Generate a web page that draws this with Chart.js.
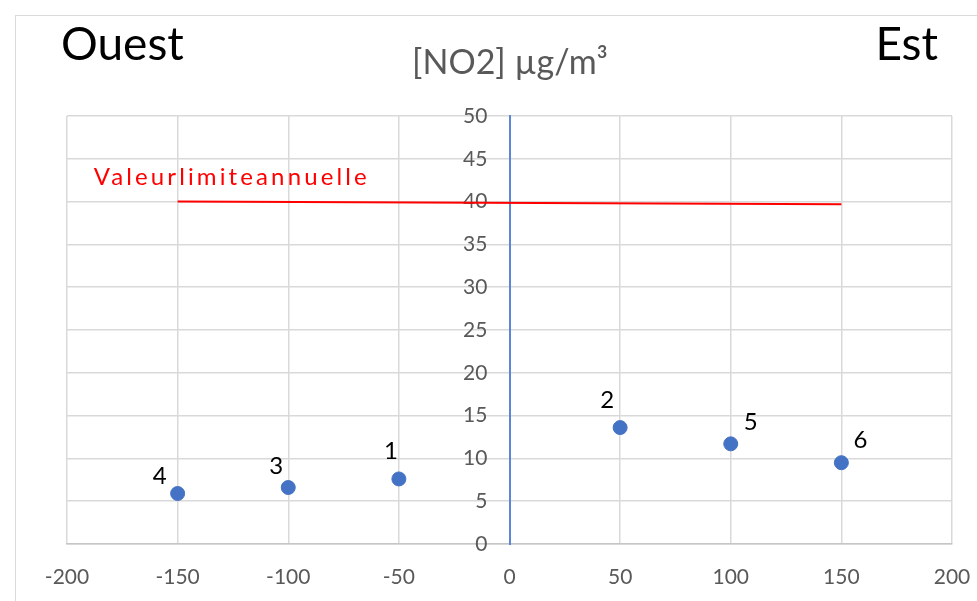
<!DOCTYPE html>
<html>
<head>
<meta charset="utf-8">
<script src="https://cdn.jsdelivr.net/npm/chart.js@4.4.1/dist/chart.umd.min.js"></script>
<style>
  html, body { margin: 0; padding: 0; background: #fff; overflow: hidden; }
  #wrap { position: relative; width: 977px; height: 601px; }
  #frame { position: absolute; left: 15px; top: 15px; width: 990px; height: 620px;
           border-left: 1.5px solid #dadada; border-top: 1.5px solid #dadada; }
  #chart { position: absolute; left: 0; top: 0; }
</style>
</head>
<body>
<div id="wrap">
  <div id="frame"></div>
  <canvas id="chart" width="977" height="601"></canvas>
</div>
<script>
  // distances (m), west negative / east positive
  const distances = [-150, -100, -50, 50, 100, 150];
  const no2Values = [5.9, 6.6, 7.6, 13.6, 11.7, 9.5];
  const siteLabels = ["4", "3", "1", "2", "5", "6"];

  const limitX = [-150, 150];
  const limitY = [40, 39.7];
  const limitText = "Valeur limite annuelle";

  const xTicks = [-200, -150, -100, -50, 0, 50, 100, 150, 200];
  const yTicks = [0, 5, 10, 15, 20, 25, 30, 35, 40, 45, 50];

  const titleText = "[NO2] µg/m³";
  const westText = "Ouest";
  const eastText = "Est";

  // where each site label sits relative to its point (px)
  const labelOffsets = [[-18, -17], [-12, -21], [-8, -28], [-13, -27], [20, -22], [19, -22]];

  const FONT = "Lato, 'Open Sans', sans-serif";
  const GRAY = "#595959";

  function getEl(id){ return document.getElementById(id); }

  // Excel squeezed the words together and spread the letters: mimic that
  function drawSpreadText(ctx, text, x, y, width){
    const words = text.split(" ");
    ctx.letterSpacing = "0px";
    const joined = words.join("");
    const w0 = ctx.measureText(joined).width;
    const sp = (width - w0) / (joined.length - 1);
    ctx.letterSpacing = sp.toFixed(2) + "px";
    let cx = x;
    words.forEach(w => {
      ctx.fillText(w, cx, y);
      cx += ctx.measureText(w).width;
    });
    ctx.letterSpacing = "0px";
  }

  const textPlugin = {
    id: "textPlugin",
    afterDatasetsDraw(chart){
      const ctx = chart.ctx;
      ctx.save();

      // headers
      ctx.textBaseline = "middle";
      ctx.fillStyle = "#000";
      ctx.font = "46px " + FONT;
      ctx.textAlign = "left";
      ctx.fillText(westText, 61, 45);
      ctx.textAlign = "right";
      ctx.fillText(eastText, 938, 45);

      ctx.fillStyle = GRAY;
      ctx.font = "34px " + FONT;
      ctx.textAlign = "center";
      ctx.fillText(titleText, 510, 63);

      // site labels
      const pts = chart.getDatasetMeta(1).data;
      ctx.fillStyle = "#000";
      ctx.font = "24px " + FONT;
      pts.forEach((p, i) => {
        const [dx, dy] = labelOffsets[i];
        ctx.fillText(siteLabels[i], p.x + dx, p.y + dy);
      });

      // limit label
      const lim = chart.getDatasetMeta(0).data[0];
      ctx.fillStyle = "#ff0000";
      ctx.font = "24px " + FONT;
      ctx.textAlign = "left";
      drawSpreadText(ctx, limitText, lim.x - 84, lim.y - 24, 273);
      ctx.restore();
    }
  };

  const limitPoints = limitX.map((x, i) => ({ x, y: limitY[i] }));
  const sitePoints = distances.map((x, i) => ({ x, y: no2Values[i] }));

  new Chart(getEl("chart").getContext("2d"), {
    type: "scatter",
    data: {
      datasets: [
        {
          label: limitText,
          data: limitPoints,
          showLine: true,
          borderColor: "#ff0000",
          borderWidth: 2,
          pointRadius: 0,
          fill: false
        },
        {
          label: "NO2",
          data: sitePoints,
          backgroundColor: "#4472c4",
          borderColor: "#4472c4",
          pointRadius: 7,
          pointHoverRadius: 7
        }
      ]
    },
    options: {
      responsive: false,
      animation: false,
      events: [],
      layout: { padding: { left: 67, right: 25, top: 116, bottom: 0 } },
      plugins: { legend: { display: false }, tooltip: { enabled: false } },
      scales: {
        x: {
          type: "linear",
          min: -200, max: 200,
          afterBuildTicks: s => { s.ticks = xTicks.map(v => ({ value: v })); },
          afterFit: s => { s.height = 57; s.paddingLeft = 0; s.paddingRight = 0; },
          ticks: { color: GRAY, font: { family: FONT, size: 21 }, padding: 21 },
          grid: { color: "#d9d9d9", lineWidth: 1.5, drawTicks: false },
          border: { color: "#c6c6c6", width: 1.5 }
        },
        // labels + horizontal grid, sitting a little left of the centre line
        y: {
          type: "linear",
          position: { x: -10 },
          min: 0, max: 50,
          afterBuildTicks: s => { s.ticks = yTicks.map(v => ({ value: v })); },
          afterFit: s => { s.paddingTop = 0; s.paddingBottom = 0; },
          ticks: { color: GRAY, font: { family: FONT, size: 21 } },
          grid: { color: "#d9d9d9", lineWidth: 1.5, drawTicks: false },
          border: { display: false }
        },
        // the blue centre axis at x = 0
        yAxis: {
          type: "linear",
          axis: "y",
          position: { x: 0 },
          min: 0, max: 50,
          afterFit: s => { s.paddingTop = 0; s.paddingBottom = 0; },
          ticks: { display: false },
          grid: { display: false, drawTicks: false },
          border: { color: "#5b87d6", width: 2 }
        }
      }
    },
    plugins: [textPlugin]
  });
</script>
</body>
</html>
